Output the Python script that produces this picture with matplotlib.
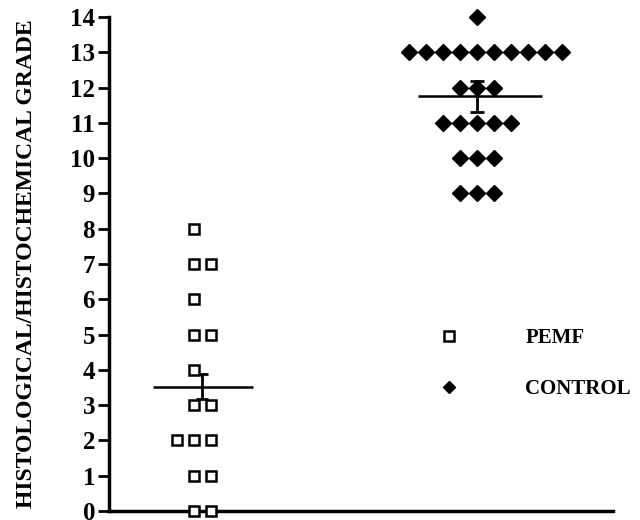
import matplotlib
matplotlib.use("Agg")
import matplotlib.pyplot as plt
from matplotlib.lines import Line2D

plt.rcParams['font.family'] = ['Liberation Serif', 'DejaVu Serif']
plt.rcParams['font.weight'] = 'bold'

# grade -> number of animals with that grade
pemf_grades = [8, 7, 6, 5, 4, 3, 2, 1, 0]
pemf_counts = [1, 2, 1, 2, 1, 2, 3, 2, 2]
control_grades = [14, 13, 12, 11, 10, 9]
control_counts = [1, 10, 3, 5, 3, 3]

pemf_mean, pemf_sem = 3.52, 0.36
control_mean, control_sem = 11.75, 0.43

y_ticks = list(range(0, 15))


def swarm(center, grades, counts):
    xs, ys = [], []
    for g, n in zip(grades, counts):
        for i in range(n):
            xs.append(center + (i - (n - 1) // 2))
            ys.append(g)
    return xs, ys


fig = plt.figure(figsize=(6.4, 5.2), dpi=100)
ax = fig.add_axes([109 / 640, 9 / 520, 504 / 640, 494 / 520])

px, py = swarm(5.0, pemf_grades, pemf_counts)
cx, cy = swarm(21.65, control_grades, control_counts)

ax.plot(px, py, ls='none', marker='s', ms=7.5, mfc='white', mec='black',
        mew=1.8, clip_on=False, zorder=3)
ax.plot(cx, cy, ls='none', marker='D', ms=8, mfc='black', mec='black',
        clip_on=False, zorder=3)

# mean +/- SEM
ax.hlines(pemf_mean, 2.6, 8.5, color='black', lw=1.8, zorder=2)
ax.errorbar(5.45, pemf_mean, yerr=pemf_sem, color='black', lw=2,
            capsize=4, capthick=2, zorder=2)
ax.hlines(control_mean, 18.2, 25.5, color='black', lw=1.8, zorder=2)
ax.errorbar(21.65, control_mean, yerr=control_sem, color='black', lw=2,
            capsize=5, capthick=2, zorder=2)

ax.set_xlim(0, 29.65)
ax.set_ylim(0, 14)
ax.set_yticks(y_ticks)
ax.set_xticks([])
ax.tick_params(axis='y', length=8, width=2, pad=2, labelsize=18)
for s in ['top', 'right']:
    ax.spines[s].set_visible(False)
for s in ['left', 'bottom']:
    ax.spines[s].set_linewidth(2.5)

ax.set_ylabel('HISTOLOGICAL/HISTOCHEMICAL GRADE', fontsize=17,
              fontweight='bold', labelpad=24)

handles = [
    Line2D([], [], ls='none', marker='s', ms=7, mfc='white', mec='black', mew=1.8),
    Line2D([], [], ls='none', marker='D', ms=6.5, mfc='black', mec='black'),
]
ax.legend(handles, ['PEMF', 'CONTROL'], loc='upper left',
          bbox_to_anchor=(0.617, 0.408), frameon=False, fontsize=15,
          handlelength=1, handletextpad=3.15, labelspacing=1.5)

fig.savefig('out.png', dpi=100)
